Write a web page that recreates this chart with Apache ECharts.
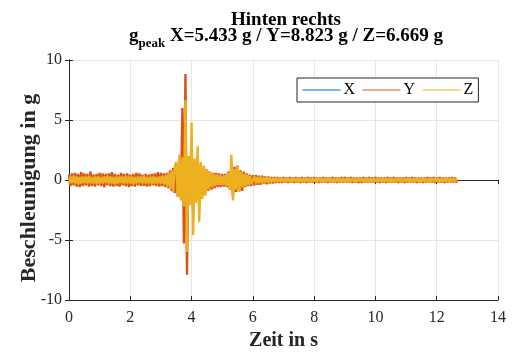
<!DOCTYPE html>
<html>
<head>
<meta charset="utf-8">
<script src="https://cdn.jsdelivr.net/npm/echarts@6/dist/echarts.min.js"></script>
<style>
  html, body { margin: 0; padding: 0; background: #fff; }
  #chart { width: 513px; height: 356px; }
</style>
</head>
<body>
<div id="chart"></div>
<script>
// Abtastschritt in s (jede Zeile unten = 0.5 s)
const dt = 0.05

// Beschleunigung X (blau)
const accX = [
  0.2,-0.2,0.15,-0.2,0.2,-0.15,0.2,-0.2,0.15,-0.2,
  0.2,-0.15,0.2,-0.2,0.25,-0.2,0.15,-0.2,0.2,-0.15,
  0.2,-0.2,0.15,-0.2,0.2,-0.2,0.15,-0.15,0.2,-0.2,
  0.15,-0.2,0.2,-0.15,0.2,-0.2,0.2,-0.15,0.15,-0.2,
  0.2,-0.15,0.2,-0.2,0.15,-0.2,0.2,-0.2,0.15,-0.15,
  0.2,-0.2,0.15,-0.2,0.2,-0.15,0.2,-0.2,0.25,-0.2,
  0.2,-0.2,0.25,-0.2,0.3,-0.3,0.35,-0.4,0.5,-0.6,
  0.9,-0.8,1.5,-1.2,1.4,-1.6,5.433,-4.8,1.5,-1.4,
  3.5,-3.3,1.1,-1.0,2.0,-2.4,1.0,-0.9,0.8,-0.8,
  0.6,-0.6,0.5,-0.45,0.4,-0.35,0.3,-0.3,0.3,-0.3,
  0.25,-0.3,0.3,-0.35,0.45,-0.6,1.5,-1.2,0.7,-0.6,
  0.8,-0.7,0.5,-0.45,0.35,-0.35,0.3,-0.3,0.25,-0.25,
  0.2,-0.2,0.2,-0.2,0.2,-0.2,0.15,-0.15,0.15,-0.15,
  0.15,-0.15,0.1,-0.15,0.1,-0.1,0.1,-0.1,0.1,-0.1,
  0.1,-0.1,0.1,-0.1,0.1,-0.1,0.1,-0.1,0.1,-0.1,
  0.1,-0.1,0.1,-0.1,0.1,-0.1,0.1,-0.1,0.1,-0.1,
  0.1,-0.1,0.1,-0.1,0.1,-0.1,0.1,-0.1,0.1,-0.1,
  0.1,-0.1,0.1,-0.1,0.1,-0.1,0.1,-0.1,0.1,-0.1,
  0.1,-0.1,0.1,-0.1,0.1,-0.1,0.1,-0.1,0.1,-0.1,
  0.1,-0.1,0.1,-0.1,0.1,-0.1,0.1,-0.1,0.1,-0.1,
  0.1,-0.1,0.1,-0.1,0.1,-0.1,0.1,-0.1,0.1,-0.1,
  0.1,-0.1,0.1,-0.1,0.1,-0.1,0.1,-0.1,0.1,-0.1,
  0.1,-0.1,0.1,-0.1,0.1,-0.1,0.1,-0.1,0.1,-0.1,
  0.1,-0.1,0.1,-0.1,0.1,-0.1,0.1,-0.1,0.1,-0.1,
  0.1,-0.1,0.1,-0.1,0.1,-0.1,0.1,-0.1,0.1,-0.1,
  0.1,-0.1,0.1,-0.1
]

// Beschleunigung Y (rot)
const accY = [
  0.45,-0.5,0.55,-0.45,0.6,-0.55,0.5,-0.6,0.65,-0.5,
  0.55,-0.45,0.5,-0.55,0.7,-0.5,0.45,-0.55,0.5,-0.45,
  0.6,-0.5,0.55,-0.6,0.5,-0.45,0.55,-0.5,0.65,-0.55,
  0.5,-0.5,0.45,-0.55,0.6,-0.45,0.5,-0.5,0.55,-0.6,
  0.45,-0.5,0.5,-0.55,0.6,-0.45,0.55,-0.5,0.45,-0.5,
  0.5,-0.55,0.45,-0.5,0.5,-0.45,0.55,-0.5,0.65,-0.55,
  0.6,-0.5,0.55,-0.6,0.6,-0.7,0.8,-0.9,1.0,-1.1,
  1.3,-1.4,1.6,-1.5,6.0,-5.3,8.823,-7.9,1.9,-2.0,
  1.8,-1.7,1.5,-1.6,1.4,-1.6,1.2,-1.3,1.0,-1.1,
  0.9,-0.9,0.7,-0.8,0.6,-0.7,0.6,-0.6,0.55,-0.6,
  0.5,-0.55,0.5,-0.6,0.7,-0.8,1.0,-1.3,1.1,-1.0,
  1.2,-1.0,0.8,-0.9,0.7,-0.6,0.55,-0.5,0.45,-0.5,
  0.4,-0.45,0.4,-0.4,0.35,-0.4,0.35,-0.3,0.3,-0.35,
  0.3,-0.3,0.25,-0.3,0.25,-0.25,0.25,-0.25,0.2,-0.25,
  0.25,-0.2,0.2,-0.25,0.25,-0.2,0.2,-0.25,0.25,-0.2,
  0.2,-0.25,0.25,-0.2,0.2,-0.25,0.25,-0.2,0.2,-0.2,
  0.25,-0.2,0.2,-0.25,0.2,-0.2,0.25,-0.2,0.2,-0.25,
  0.2,-0.2,0.25,-0.2,0.2,-0.25,0.2,-0.2,0.25,-0.2,
  0.25,-0.2,0.2,-0.2,0.25,-0.25,0.2,-0.2,0.2,-0.25,
  0.2,-0.25,0.25,-0.2,0.2,-0.2,0.25,-0.2,0.2,-0.2,
  0.25,-0.2,0.2,-0.25,0.2,-0.2,0.2,-0.25,0.25,-0.2,
  0.2,-0.2,0.25,-0.2,0.2,-0.25,0.2,-0.2,0.2,-0.25,
  0.25,-0.2,0.2,-0.2,0.25,-0.2,0.2,-0.25,0.2,-0.2,
  0.2,-0.25,0.2,-0.2,0.25,-0.2,0.2,-0.2,0.25,-0.25,
  0.2,-0.2,0.25,-0.2,0.2,-0.25,0.2,-0.2,0.2,-0.2,
  0.25,-0.2,0.2,-0.25
]

// Beschleunigung Z (gelb)
const accZ = [
  -0.3,0.3,-0.25,0.35,-0.3,0.3,-0.35,0.25,-0.3,0.3,
  -0.25,0.3,-0.3,0.35,-0.3,0.25,-0.3,0.3,-0.35,0.3,
  -0.3,0.25,-0.3,0.3,-0.25,0.35,-0.3,0.3,-0.3,0.25,
  -0.35,0.3,-0.3,0.3,-0.25,0.3,-0.3,0.35,-0.3,0.3,
  -0.3,0.3,-0.35,0.25,-0.3,0.3,-0.25,0.3,-0.3,0.35,
  -0.3,0.25,-0.3,0.3,-0.35,0.3,-0.3,0.25,-0.3,0.3,
  -0.3,0.35,-0.35,0.4,-0.5,0.6,-0.7,0.8,-1.0,1.1,
  1.5,-1.4,2.1,-1.7,1.9,-2.2,6.669,-6.0,2.0,-2.1,
  4.8,-4.6,1.8,-1.9,2.8,-3.5,1.5,-1.6,1.2,-1.3,
  0.9,-0.8,0.7,-0.6,0.5,-0.5,0.45,-0.4,0.4,-0.4,
  0.35,-0.4,0.4,-0.5,0.6,-0.8,2.1,-1.7,0.9,-0.8,
  1.2,-1.0,0.7,-0.6,0.5,-0.5,0.45,-0.4,0.35,-0.35,
  -0.3,0.3,-0.3,0.25,-0.25,0.3,-0.25,0.2,-0.2,0.25,
  -0.2,0.2,-0.2,0.15,-0.15,0.2,-0.15,0.15,-0.15,0.15,
  -0.15,0.15,-0.12,0.15,-0.15,0.12,-0.15,0.15,-0.12,0.15,
  -0.15,0.12,-0.15,0.15,-0.12,0.15,-0.15,0.12,-0.15,0.15,
  -0.12,0.15,-0.15,0.12,-0.15,0.15,-0.12,0.15,-0.15,0.12,
  -0.15,0.15,-0.12,0.15,-0.15,0.12,-0.15,0.15,-0.12,0.15,
  -0.15,0.12,-0.15,0.15,-0.12,0.15,-0.15,0.12,-0.15,0.15,
  -0.12,0.15,-0.15,0.12,-0.15,0.15,-0.12,0.15,-0.15,0.12,
  -0.15,0.15,-0.12,0.15,-0.15,0.12,-0.15,0.15,-0.12,0.15,
  -0.15,0.12,-0.15,0.15,-0.12,0.15,-0.15,0.12,-0.15,0.15,
  -0.12,0.15,-0.15,0.12,-0.15,0.15,-0.12,0.15,-0.15,0.12,
  -0.15,0.15,-0.12,0.15,-0.15,0.12,-0.15,0.15,-0.12,0.15,
  -0.15,0.12,-0.15,0.15,-0.12,0.15,-0.15,0.12,-0.15,0.15,
  -0.12,0.15,-0.15,0.12
]

const xTicks = [0, 2, 4, 6, 8, 10, 12, 14]
const yTicks = [-10, -5, 0, 5, 10]

const serif = '"Liberation Serif", "DejaVu Serif", serif'
const ink = '#262626'

function toPairs(arr) {
  return arr.map((v, i) => [+(i * dt).toFixed(2), v])
}

let myChart = echarts.init(document.getElementById('chart'))

let option = {
  animation: false,
  color: ['#0072BD', '#D95319', '#EDB120'],
  title: {
    left: 281,
    top: 8,
    textAlign: 'center',
    text: '{t|Hinten rechts}\n{b|g}{s|peak}{b| X=5.433 g / Y=8.823 g / Z=6.669 g}',
    textStyle: {
      rich: {
        t: { fontFamily: serif, fontWeight: 'bold', fontSize: 19, color: '#000', lineHeight: 14 },
        b: { fontFamily: serif, fontWeight: 'bold', fontSize: 19, color: '#000', lineHeight: 23, verticalAlign: 'top' },
        s: { fontFamily: serif, fontWeight: 'bold', fontSize: 13, color: '#000', lineHeight: 23, verticalAlign: 'bottom' }
      }
    }
  },
  legend: {
    left: 297,
    top: 78,
    data: ['X', 'Y', 'Z'],
    itemWidth: 38,
    itemHeight: 10,
    itemGap: 7,
    padding: [4, 5, 4, 5],
    borderColor: ink,
    borderWidth: 1,
    backgroundColor: '#fff',
    itemStyle: { opacity: 0 },
    lineStyle: { width: 1 },
    textStyle: { fontFamily: serif, fontSize: 16, color: '#000', padding: [0, 0, 0, -2] }
  },
  grid: { left: 69, right: 15, top: 60, bottom: 54 },
  xAxis: [
    {
      type: 'value', min: 0, max: 14, interval: 2,
      name: 'Zeit in s', nameLocation: 'middle', nameGap: 31,
      nameTextStyle: { fontFamily: serif, fontWeight: 'bold', fontSize: 20, color: ink },
      axisLine: { show: true, onZero: false, lineStyle: { color: ink } },
      axisTick: { show: true, inside: true, length: 4, lineStyle: { color: ink } },
      axisLabel: { fontFamily: serif, fontSize: 16, color: ink, margin: 10,
        formatter: v => xTicks.includes(v) ? String(v) : '' },
      splitLine: { show: true, lineStyle: { color: '#e6e6e6' } }
    },
    {
      type: 'value', min: 0, max: 14, interval: 2, position: 'top',
      axisLine: { show: true, lineStyle: { color: ink } },
      axisTick: { show: true, inside: true, length: 4, lineStyle: { color: ink } },
      axisLabel: { show: false }, splitLine: { show: false }
    }
  ],
  yAxis: [
    {
      type: 'value', min: -10, max: 10, interval: 5,
      name: 'Beschleunigung in g', nameLocation: 'middle', nameGap: 29,
      nameMoveOverlap: false,
      nameTextStyle: { fontFamily: serif, fontWeight: 'bold', fontSize: 22, color: ink, padding: [0, 16, 0, 0] },
      axisLine: { show: true, onZero: false, lineStyle: { color: ink } },
      axisTick: { show: true, inside: true, length: 4, lineStyle: { color: ink } },
      axisLabel: { fontFamily: serif, fontSize: 16, color: ink, margin: 7,
        formatter: v => yTicks.includes(v) ? String(v) : '' },
      splitLine: { show: true, lineStyle: { color: '#e6e6e6' } }
    },
    {
      type: 'value', min: -10, max: 10, interval: 5, position: 'right',
      axisLine: { show: true, lineStyle: { color: ink } },
      axisTick: { show: true, inside: true, length: 4, lineStyle: { color: ink } },
      axisLabel: { show: false }, splitLine: { show: false }
    }
  ],
  series: [
    { name: 'X', type: 'line', data: toPairs(accX), showSymbol: false, symbol: 'none',
      lineStyle: { width: 2 }, silent: true },
    { name: 'Y', type: 'line', data: toPairs(accY), showSymbol: false, symbol: 'none',
      lineStyle: { width: 2.4 }, silent: true },
    { name: 'Z', type: 'line', data: toPairs(accZ), showSymbol: false, symbol: 'none',
      lineStyle: { width: 2.4 }, silent: true }
  ]
}

myChart.setOption(option, true)
</script>
</body>
</html>
